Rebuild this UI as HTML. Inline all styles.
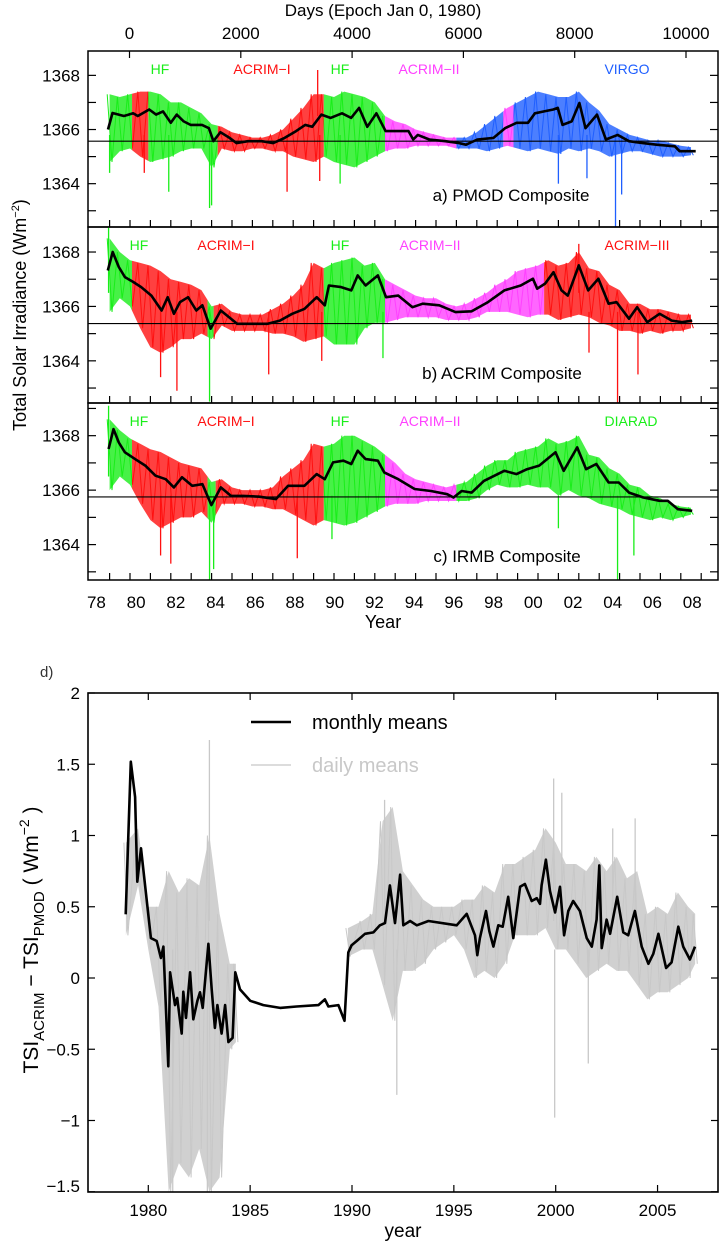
<!DOCTYPE html>
<html><head><meta charset="utf-8"><style>
html,body{margin:0;padding:0;background:#fff;}
svg{display:block;font-family:"Liberation Sans",Arial,sans-serif;}
</style></head><body>
<svg id="chart" width="720" height="1242" viewBox="0 0 720 1242" xmlns="http://www.w3.org/2000/svg"></svg>
<script>
// ---------- data (upper panels) ----------
const bandYears=[1979,1979.5,1980,1980.5,1981,1981.5,1982,1982.5,1983,1983.5,1984,1984.5,1985,1985.5,1986,1986.5,1987,1987.5,1988,1988.5,1989,1989.5,1990,1990.5,1991,1991.5,1992,1992.5,1993,1993.5,1994,1994.5,1995,1995.5,1996,1996.5,1997,1997.5,1998,1998.5,1999,1999.5,2000,2000.5,2001,2001.5,2002,2002.5,2003,2003.5,2004,2004.5,2005,2005.5,2006,2006.5,2007,2007.5];
const hiA=[1367.3,1367.2,1367.3,1367.4,1367.4,1367.3,1367.0,1367.0,1366.8,1366.6,1366.2,1366.1,1365.9,1365.8,1365.7,1365.7,1365.8,1366.0,1366.4,1366.8,1367.3,1367.3,1367.2,1367.4,1367.3,1367.2,1367.0,1366.5,1366.3,1366.2,1366.0,1365.9,1365.8,1365.7,1365.7,1365.7,1365.9,1366.2,1366.5,1366.8,1367.0,1367.2,1367.4,1367.3,1367.2,1367.2,1367.4,1367.0,1366.7,1366.2,1366.0,1365.8,1365.7,1365.6,1365.6,1365.5,1365.4,1365.35];
const loA=[1364.8,1365.2,1365.3,1365.0,1364.8,1364.9,1365.0,1365.2,1365.3,1365.3,1364.6,1365.3,1365.2,1365.2,1365.3,1365.3,1365.2,1365.2,1365.0,1364.9,1364.8,1365.0,1364.8,1364.7,1364.6,1364.8,1365.0,1365.2,1365.3,1365.3,1365.4,1365.4,1365.4,1365.4,1365.3,1365.3,1365.3,1365.2,1365.3,1365.4,1365.3,1365.2,1365.3,1365.2,1365.1,1365.3,1365.2,1365.3,1365.2,1365.0,1365.1,1365.2,1365.2,1365.1,1365.0,1365.0,1365.0,1365.05];
const hiB=[1368.5,1368.0,1367.7,1367.6,1367.5,1367.3,1367.0,1366.9,1366.8,1366.6,1366.0,1366.1,1365.8,1365.7,1365.7,1365.7,1365.9,1366.1,1366.4,1366.8,1367.6,1367.4,1367.6,1367.7,1367.8,1367.5,1367.6,1367.0,1366.8,1366.6,1366.4,1366.3,1366.3,1366.1,1366.0,1366.1,1366.3,1366.5,1366.8,1367.0,1367.3,1367.4,1367.5,1367.7,1367.5,1367.6,1368.0,1367.4,1367.3,1366.8,1366.6,1366.1,1366.1,1365.9,1365.9,1365.8,1365.7,1365.7];
const loB=[1365.8,1366.3,1366.0,1365.2,1364.5,1364.3,1364.5,1364.8,1364.8,1365.0,1364.8,1365.3,1365.1,1365.1,1365.1,1365.1,1365.0,1365.0,1364.9,1364.7,1364.8,1364.9,1364.6,1364.6,1364.6,1365.2,1365.4,1365.4,1365.5,1365.6,1365.6,1365.6,1365.6,1365.5,1365.5,1365.5,1365.6,1365.8,1365.8,1365.8,1365.7,1365.6,1365.7,1365.7,1365.5,1365.6,1365.7,1365.6,1365.4,1365.3,1365.1,1365.1,1365.0,1365.1,1365.0,1365.1,1365.1,1365.2];
const hiC=[1368.6,1368.2,1367.9,1367.7,1367.5,1367.4,1367.2,1367.0,1366.9,1366.8,1366.3,1366.4,1366.1,1366.0,1366.0,1366.0,1366.1,1366.5,1366.8,1367.1,1367.7,1367.6,1367.7,1368.0,1368.0,1367.8,1367.6,1367.3,1367.0,1366.6,1366.4,1366.3,1366.2,1366.1,1366.2,1366.3,1366.6,1366.9,1367.1,1367.1,1367.4,1367.5,1367.6,1367.9,1367.7,1367.8,1368.0,1367.3,1367.2,1366.8,1366.6,1366.2,1366.1,1365.8,1365.7,1365.5,1365.4,1365.35];
const loC=[1366.0,1366.5,1366.2,1365.5,1364.9,1364.6,1364.8,1365.0,1365.0,1365.2,1364.8,1365.5,1365.5,1365.5,1365.4,1365.4,1365.3,1365.3,1365.1,1364.9,1364.7,1364.9,1364.8,1364.7,1364.8,1365.0,1365.2,1365.4,1365.5,1365.5,1365.5,1365.6,1365.6,1365.6,1365.6,1365.6,1365.7,1366.0,1366.2,1366.1,1366.1,1366.2,1366.1,1366.1,1365.8,1366.0,1365.8,1365.7,1365.5,1365.4,1365.3,1365.1,1365.0,1364.9,1365.0,1364.9,1365.0,1365.1];
const meanYearsA=[1978.92,1979.14,1979.7,1980.15,1980.38,1980.94,1981.28,1981.62,1982.0,1982.29,1982.63,1982.97,1983.53,1983.87,1984.09,1984.43,1984.88,1985.22,1985.78,1986.46,1987.02,1987.58,1988.14,1988.59,1988.93,1989.38,1989.83,1990.39,1990.84,1991.23,1991.63,1992.08,1992.53,1993.2,1993.65,1993.88,1994.11,1994.67,1995.46,1996.13,1996.47,1997.03,1997.82,1998.38,1998.95,1999.51,1999.85,2000.3,2000.75,2000.97,2001.2,2001.65,2002.03,2002.33,2002.89,2003.33,2003.9,2004.46,2005.14,2005.81,2006.71,2006.94,2007.73];
const meanA=[1366.0,1366.61,1366.5,1366.6,1366.5,1366.74,1366.55,1366.67,1366.25,1366.55,1366.3,1366.17,1366.17,1366.05,1365.57,1365.9,1365.69,1365.5,1365.57,1365.57,1365.5,1365.69,1365.94,1366.17,1366.1,1366.55,1366.43,1366.6,1366.43,1366.8,1366.1,1366.6,1365.94,1365.94,1365.94,1365.63,1365.8,1365.63,1365.57,1365.5,1365.44,1365.63,1365.69,1366.05,1366.25,1366.25,1366.6,1366.67,1366.74,1366.8,1366.17,1366.3,1366.98,1366.05,1366.55,1365.63,1365.8,1365.57,1365.5,1365.44,1365.38,1365.2,1365.2];
const meanYearsB=[1978.91,1979.15,1979.45,1979.75,1980.15,1980.55,1981.05,1981.55,1981.85,1982.15,1982.45,1982.85,1983.25,1983.55,1983.95,1984.45,1985.25,1985.95,1986.75,1987.35,1987.95,1988.55,1989.15,1989.55,1989.75,1990.35,1990.85,1991.16,1991.55,1992.15,1992.55,1993.15,1993.85,1994.35,1995.16,1995.95,1996.75,1997.55,1998.35,1999.15,1999.75,1999.96,2000.35,2000.76,2001.15,2001.46,2002.0,2002.46,2002.96,2003.46,2003.85,2004.46,2004.86,2005.36,2005.96,2006.56,2007.06,2007.56];
const meanB=[1367.32,1368.0,1367.45,1367.08,1366.9,1366.71,1366.4,1365.85,1366.34,1365.73,1366.16,1366.34,1365.85,1366.04,1365.18,1365.85,1365.36,1365.36,1365.36,1365.48,1365.73,1365.91,1366.34,1366.04,1366.77,1366.71,1366.59,1367.14,1366.77,1367.14,1366.34,1366.4,1365.97,1366.1,1366.04,1365.79,1365.82,1366.16,1366.59,1366.77,1367.02,1366.65,1366.84,1367.26,1366.59,1366.4,1367.51,1366.59,1367.02,1366.1,1366.16,1365.55,1365.97,1365.42,1365.73,1365.48,1365.42,1365.48];
const meanYearsC=[1978.95,1979.19,1979.45,1979.75,1980.25,1980.75,1981.25,1981.75,1982.15,1982.55,1983.05,1983.55,1983.99,1984.45,1984.95,1985.55,1986.35,1987.15,1987.75,1988.55,1989.15,1989.55,1989.95,1990.46,1990.85,1991.16,1991.55,1992.15,1992.46,1993.15,1993.95,1994.75,1995.55,1995.86,1996.26,1996.75,1997.35,1998.35,1998.95,1999.46,2000.06,2000.86,2001.26,2001.92,2002.36,2002.86,2003.46,2003.96,2004.46,2005.16,2005.96,2006.36,2006.86,2007.56];
const meanC=[1367.51,1368.24,1367.75,1367.39,1367.14,1366.9,1366.53,1366.4,1366.1,1366.47,1366.16,1366.22,1365.45,1366.1,1365.79,1365.79,1365.76,1365.67,1366.16,1366.16,1366.59,1366.4,1367.02,1367.08,1366.96,1367.45,1367.14,1367.08,1366.65,1366.4,1366.04,1365.97,1365.85,1365.73,1365.97,1365.91,1366.34,1366.71,1366.59,1366.77,1366.9,1367.39,1366.71,1367.57,1366.77,1366.96,1366.28,1366.28,1365.91,1365.73,1365.61,1365.61,1365.3,1365.24];
const spikeYearsA=[1979.0,1980.7,1981.9,1983.9,1984.0,1987.7,1989.3,1990.3,2001.0,2002.4,2003.8,2004.1,1989.2];
const spikeValsA=[1364.4,1364.4,1363.7,1363.1,1363.2,1363.7,1364.1,1364.0,1364.0,1364.2,1362.4,1363.6,1368.2];
const spikeYearsB=[1978.95,1981.5,1982.3,1983.9,1986.8,1989.4,1992.4,2002.5,2003.9,2004.9,2002.0];
const spikeValsB=[1369.0,1363.4,1362.9,1362.5,1363.5,1364.0,1364.1,1364.3,1362.4,1363.5,1368.3];
const spikeYearsC=[1978.95,1981.5,1982.0,1983.9,1984.1,1988.2,1989.9,2001.0,2003.9,2004.7];
const spikeValsC=[1369.1,1363.6,1363.3,1362.7,1363.1,1363.5,1364.2,1364.6,1362.7,1363.6];
const refLevels=[1365.57,1365.37,1365.75];
const yTicksTop=[1364,1366,1368];
const yearTickLabels=["78","80","82","84","86","88","90","92","94","96","98","00","02","04","06","08"];
const dayTicks=[0,2000,4000,6000,8000,10000];
// ---------- data (panel d) ----------
const dYears=[1978.89,1979.14,1979.35,1979.46,1979.64,1980.13,1980.41,1980.62,1980.74,1980.98,1981.07,1981.31,1981.42,1981.64,1981.72,1981.85,1982.05,1982.21,1982.41,1982.54,1982.67,1982.95,1983.11,1983.27,1983.39,1983.6,1983.77,1983.93,1984.14,1984.27,1984.5,1985.0,1985.65,1986.47,1987.28,1988.35,1988.67,1988.84,1989.33,1989.63,1989.82,1989.98,1990.23,1990.64,1991.05,1991.37,1991.62,1991.86,1992.11,1992.36,1992.52,1992.85,1993.18,1993.75,1995.14,1995.63,1996.04,1996.15,1996.28,1996.58,1996.74,1996.94,1997.18,1997.4,1997.67,1997.92,1998.25,1998.49,1998.82,1999.07,1999.23,1999.31,1999.52,1999.72,1999.97,2000.21,2000.41,2000.62,2000.86,2001.19,2001.52,2001.77,2002.01,2002.14,2002.26,2002.5,2002.67,2003.02,2003.32,2003.56,2003.89,2004.22,2004.55,2004.79,2005.04,2005.42,2005.69,2006.02,2006.26,2006.59,2006.84];
const dMonthly=[0.447,1.518,1.27,0.676,0.91,0.28,0.26,0.14,0.22,-0.62,0.04,-0.19,-0.14,-0.39,-0.096,-0.28,0.04,-0.29,-0.16,-0.1,-0.21,0.24,-0.08,-0.35,-0.19,-0.39,-0.19,-0.45,-0.42,0.04,-0.08,-0.16,-0.19,-0.21,-0.2,-0.19,-0.15,-0.2,-0.19,-0.30,0.18,0.23,0.26,0.31,0.32,0.37,0.385,0.65,0.385,0.725,0.37,0.4,0.37,0.4,0.37,0.45,0.3,0.16,0.28,0.47,0.33,0.22,0.37,0.36,0.57,0.28,0.64,0.66,0.54,0.56,0.52,0.65,0.83,0.61,0.46,0.64,0.30,0.47,0.54,0.47,0.28,0.22,0.41,0.79,0.21,0.41,0.31,0.57,0.32,0.30,0.47,0.22,0.10,0.17,0.31,0.07,0.11,0.36,0.22,0.13,0.22];
const dBandYears=[1978.9,1979.5,1980.0,1980.5,1981.0,1981.5,1982.0,1982.5,1983.0,1983.5,1984.0,1984.3,null,1989.8,1990.5,1991.0,1991.5,1992.0,1992.5,1993.0,1993.5,1994.0,1994.5,1995.0,1995.5,1996.0,1996.5,1997.0,1997.5,1998.0,1998.5,1999.0,1999.5,2000.0,2000.5,2001.0,2001.5,2002.0,2002.5,2003.0,2003.5,2004.0,2004.5,2005.0,2005.5,2006.0,2006.5,2006.85];
const dDailyHi=[0.95,1.05,0.5,0.5,0.75,0.6,0.7,0.65,1.0,0.45,0.1,0.1,null,0.35,0.4,0.45,1.1,1.2,0.75,0.65,0.55,0.5,0.5,0.5,0.55,0.55,0.65,0.6,0.8,0.8,0.85,0.9,1.05,0.95,0.8,0.8,0.75,0.85,0.75,0.85,0.7,0.75,0.45,0.5,0.45,0.6,0.5,0.45];
const dDailyLo=[0.3,0.65,0.2,-0.2,-1.5,-1.3,-1.4,-1.2,-1.5,-1.4,-0.5,-0.45,null,0.15,0.2,0.2,-0.05,-0.3,0.05,0.05,0.1,0.2,0.25,0.3,0.2,0.0,0.05,0.0,0.1,0.3,0.3,0.3,0.35,0.2,0.2,0.1,0.0,0.05,0.1,0.05,0.05,-0.05,-0.15,-0.1,-0.1,-0.05,0.0,0.1];
const dSpikeYears=[1983.0,1991.6,1992.2,1999.9,1999.95,2000.3,2001.6,2002.8,2003.9,1981.2,1982.9];
const dSpikeVals=[1.67,1.25,-0.82,1.4,-0.98,1.3,-0.6,1.05,1.12,-1.5,-1.5];
const dYTicks=[-1.5,-1,-0.5,0,0.5,1,1.5,2];
const dYTickLabels=["\u22121.5","\u22121","\u22120.5","0","0.5","1","1.5","2"];
const dXTicks=[1980,1985,1990,1995,2000,2005];

// ---------- helpers ----------
const svg=document.getElementById('chart');
const NS='http://www.w3.org/2000/svg';
function mk(tag,attrs,parent){const e=document.createElementNS(NS,tag);for(const k in attrs)e.setAttribute(k,attrs[k]);(parent||svg).appendChild(e);return e;}
const G='#19ee19',R='#ff1010',M='#ff40ff',B='#1f5fff';
const L=88,Rt=718;
function xY(yr){return 130+20.4*(yr-1980);}
function yearLabelX(yr){return 96.4+19.86*(yr-1978);}
function xDay(d){return 129.5+d*0.05565;}
const panels=[
 {key:'a',top:51,bot:227,vTop:1368.9,vBot:1362.4,hi:hiA,lo:loA,my:meanYearsA,m:meanA,sy:spikeYearsA,sv:spikeValsA,
  segs:[[1978,1980.1,G],[1980.1,1980.9,R],[1980.9,1984.3,G],[1984.3,1989.5,R],[1989.5,1992.5,G],[1992.5,1996.0,M],[1996.0,1998.3,B],[1998.3,1998.8,M],[1998.8,2009,B]],
  labels:[['HF',160,G],['ACRIM\u2212I',262,R],['HF',340,G],['ACRIM\u2212II',429,M],['VIRGO',627,B]],title:'a) PMOD Composite',tx:511,ty:201},
 {key:'b',top:227,bot:403,vTop:1368.92,vBot:1362.45,hi:hiB,lo:loB,my:meanYearsB,m:meanB,sy:spikeYearsB,sv:spikeValsB,
  segs:[[1978,1980.1,G],[1980.1,1983.8,R],[1983.8,1984.1,G],[1984.1,1989.5,R],[1989.5,1992.5,G],[1992.5,2000.3,M],[2000.3,2009,R]],
  labels:[['HF',139,G],['ACRIM\u2212I',226,R],['HF',340,G],['ACRIM\u2212II',430,M],['ACRIM\u2212III',637,R]],title:'b) ACRIM Composite',tx:502,ty:379},
 {key:'c',top:403,bot:580,vTop:1369.2,vBot:1362.7,hi:hiC,lo:loC,my:meanYearsC,m:meanC,sy:spikeYearsC,sv:spikeValsC,
  segs:[[1978,1980.1,G],[1980.1,1983.8,R],[1983.8,1984.2,G],[1984.2,1989.5,R],[1989.5,1992.5,G],[1992.5,1996.0,M],[1996.0,2009,G]],
  labels:[['HF',139,G],['ACRIM\u2212I',226,R],['HF',340,G],['ACRIM\u2212II',430,M],['DIARAD',631,G]],title:'c) IRMB Composite',tx:507,ty:562}
];

// ---------- upper panels ----------
panels.forEach((p,pi)=>{
  const yV=v=>p.top+(p.vTop-v)/(p.vTop-p.vBot)*(p.bot-p.top);
  const g=mk('g',{});
  
  
  const cp=mk('clipPath',{id:'clip'+p.key},g);
  mk('rect',{x:L,y:p.top,width:Rt-L,height:p.bot-p.top},cp);
  const plot=mk('g',{'clip-path':'url(#clip'+p.key+')'},g);
  // band points
  let pts=[];
  bandYears.forEach((yr,i)=>pts.push(xY(yr).toFixed(1)+','+yV(p.hi[i]).toFixed(1)));
  for(let i=bandYears.length-1;i>=0;i--)pts.push(xY(bandYears[i]).toFixed(1)+','+yV(p.lo[i]).toFixed(1));
  let zz=[];
  bandYears.forEach((yr,i)=>{zz.push(xY(yr-0.12).toFixed(1)+','+yV(p.hi[i]).toFixed(1));zz.push(xY(yr+0.12).toFixed(1)+','+yV(p.lo[i]).toFixed(1));});
  p.segs.forEach((s,si)=>{
    const c=mk('clipPath',{id:'seg'+p.key+si},g);
    mk('rect',{x:xY(s[0]),y:p.top,width:xY(s[1])-xY(s[0]),height:p.bot-p.top},c);
    const sg=mk('g',{'clip-path':'url(#seg'+p.key+si+')'},plot);
    
    
    mk('polygon',{points:pts.join(' '),fill:s[2],'fill-opacity':0.8},sg);
    mk('polyline',{points:zz.join(' '),fill:'none',stroke:s[2],'stroke-width':1},sg);
    p.sy.forEach((yr,k)=>{
      const base=p.m[0];
      mk('line',{x1:xY(yr),x2:xY(yr),y1:yV(p.sv[k]),y2:yV(p.sv[k]<1366?1365.8:1366.5),stroke:s[2],'stroke-width':1.3},sg);
    });
  });
  // reference line
  const rl=mk('line',{x1:L,x2:Rt,y1:yV(refLevels[pi]),y2:yV(refLevels[pi]),stroke:'#000','stroke-width':1.2},g);
  
  
  // mean line
  const ml=mk('polyline',{points:p.my.map((yr,i)=>xY(yr).toFixed(1)+','+yV(p.m[i]).toFixed(1)).join(' '),fill:'none',stroke:'#000','stroke-width':2.6,'stroke-linejoin':'round'},plot);
  
  
  // frame
  mk('rect',{x:L,y:p.top,width:Rt-L,height:p.bot-p.top,fill:'none',stroke:'#000','stroke-width':1.5},g);
  // y ticks
  for(let v=Math.ceil(p.vBot);v<=Math.floor(p.vTop);v++){
    const y=yV(v);
    mk('line',{x1:L,x2:L+8,y1:y,y2:y,stroke:'#000','stroke-width':1.2},g);
    mk('line',{x1:Rt-8,x2:Rt,y1:y,y2:y,stroke:'#000','stroke-width':1.2},g);
  }
  yTicksTop.forEach(v=>{
    const t=mk('text',{x:80,y:yV(v)+6,'text-anchor':'end','font-size':17},g);
    t.textContent=v;
    
    
  });
  // x ticks
  for(let yr=1979;yr<=2008;yr++){
    mk('line',{x1:xY(yr),x2:xY(yr),y1:p.bot,y2:p.bot-7,stroke:'#000','stroke-width':1.2},g);
  }
  // instrument labels
  p.labels.forEach(l=>{
    const t=mk('text',{x:l[1],y:p.top+23,'text-anchor':'middle','font-size':14,fill:l[2]},g);
    t.textContent=l[0];
    
    
  });
  const tt=mk('text',{x:p.tx,y:p.ty,'text-anchor':'middle','font-size':17},g);
  tt.textContent=p.title;
  
  
});
// top day axis
dayTicks.forEach(d=>{
  const t=mk('text',{x:xDay(d),y:39,'text-anchor':'middle','font-size':17});
  t.textContent=d;
  
  
  mk('line',{x1:xDay(d),x2:xDay(d),y1:51,y2:58,stroke:'#000','stroke-width':1.2});
});
let dt=mk('text',{x:383,y:16,'text-anchor':'middle','font-size':17});
dt.textContent='Days (Epoch Jan 0, 1980)';


yearTickLabels.forEach((lab,i)=>{
  const t=mk('text',{x:yearLabelX(1978+2*i),y:608,'text-anchor':'middle','font-size':17});
  t.textContent=lab;
  
  
});
let yt=mk('text',{x:383,y:628,'text-anchor':'middle','font-size':18});
yt.textContent='Year';


let tsi=mk('text',{x:0,y:0,'text-anchor':'middle','font-size':18,transform:'translate(26,315) rotate(-90)'});
tsi.innerHTML='Total Solar Irradiance (Wm<tspan font-size="11" dy="-7">\u22122</tspan><tspan dy="7">)</tspan>';



// ---------- panel d ----------
const dTop=693,dBot=1192;
function xD(yr){return 148.3+20.37*(yr-1980);}
function yD(v){return 978-142.5*v;}
const gd=mk('g',{});


const cpd=mk('clipPath',{id:'clipd'},gd);
mk('rect',{x:L,y:dTop,width:Rt-L,height:dBot-dTop},cpd);
const pd=mk('g',{'clip-path':'url(#clipd)'},gd);
// daily band segments
let segs=[[]];
dBandYears.forEach((yr,i)=>{ if(yr===null){segs.push([]);} else segs[segs.length-1].push(i); });
segs.forEach(idx=>{
  if(!idx.length)return;
  let pts=idx.map(i=>xD(dBandYears[i]).toFixed(1)+','+yD(dDailyHi[i]).toFixed(1));
  for(let k=idx.length-1;k>=0;k--){const i=idx[k];pts.push(xD(dBandYears[i]).toFixed(1)+','+yD(dDailyLo[i]).toFixed(1));}
  const pg=mk('polygon',{points:pts.join(' '),fill:'#d0d0d0'},pd);
  
  
  let zz=[];
  idx.forEach(i=>{zz.push(xD(dBandYears[i]-0.1).toFixed(1)+','+yD(dDailyHi[i]).toFixed(1));zz.push(xD(dBandYears[i]+0.1).toFixed(1)+','+yD(dDailyLo[i]).toFixed(1));});
  mk('polyline',{points:zz.join(' '),fill:'none',stroke:'#c8c8c8','stroke-width':1},pd);
});
dSpikeYears.forEach((yr,i)=>{
  const l=mk('line',{x1:xD(yr),x2:xD(yr),y1:yD(dSpikeVals[i]),y2:yD(dSpikeVals[i]>0.4?0.4:0.2),stroke:'#c8c8c8','stroke-width':1.3},pd);
  
  
});
const dl=mk('polyline',{points:dYears.map((yr,i)=>xD(yr).toFixed(1)+','+yD(dMonthly[i]).toFixed(1)).join(' '),fill:'none',stroke:'#000','stroke-width':2.6,'stroke-linejoin':'round'},pd);


mk('rect',{x:L,y:dTop,width:Rt-L,height:dBot-dTop,fill:'none',stroke:'#000','stroke-width':1.6},gd);
dYTicks.forEach((v,i)=>{
  mk('line',{x1:L,x2:L+7,y1:yD(v),y2:yD(v),stroke:'#000','stroke-width':1.2},gd);
  mk('line',{x1:Rt-7,x2:Rt,y1:yD(v),y2:yD(v),stroke:'#000','stroke-width':1.2},gd);
  const t=mk('text',{x:80,y:yD(v)+(v===-1.5?0:6),'text-anchor':'end','font-size':17},gd);
  t.textContent=dYTickLabels[i];
  
  
});
dXTicks.forEach(yr=>{
  mk('line',{x1:xD(yr),x2:xD(yr),y1:dTop,y2:dTop+7,stroke:'#000','stroke-width':1.2},gd);
  mk('line',{x1:xD(yr),x2:xD(yr),y1:dBot,y2:dBot-7,stroke:'#000','stroke-width':1.2},gd);
  const t=mk('text',{x:xD(yr),y:1216,'text-anchor':'middle','font-size':17},gd);
  t.textContent=yr;
  
  
});
let dyear=mk('text',{x:403,y:1237,'text-anchor':'middle','font-size':19},gd);
dyear.textContent='year';


let dlab=mk('text',{x:40,y:677,'font-size':15,fill:'#333'},gd);
dlab.textContent='d)';


let dyt=mk('text',{x:0,y:0,'text-anchor':'middle','font-size':21,transform:'translate(38,940) rotate(-90)'},gd);
dyt.innerHTML='TSI<tspan font-size="15" dy="6">ACRIM</tspan><tspan dy="-6"> \u2212 TSI</tspan><tspan font-size="15" dy="6">PMOD</tspan><tspan dy="-6"> ( Wm</tspan><tspan font-size="14" dy="-9">\u22122</tspan><tspan dy="9"> )</tspan>';


// legend
const lg=mk('g',{},gd);


mk('line',{x1:251,x2:291,y1:722,y2:722,stroke:'#000','stroke-width':2.6},lg);
let l1=mk('text',{x:312,y:729,'font-size':20},lg);
l1.textContent='monthly means';


mk('line',{x1:251,x2:291,y1:765,y2:765,stroke:'#c8c8c8','stroke-width':1.2},lg);
let l2=mk('text',{x:312,y:772,'font-size':20,fill:'#c8c8c8'},lg);
l2.textContent='daily means';


</script>
</body></html>
